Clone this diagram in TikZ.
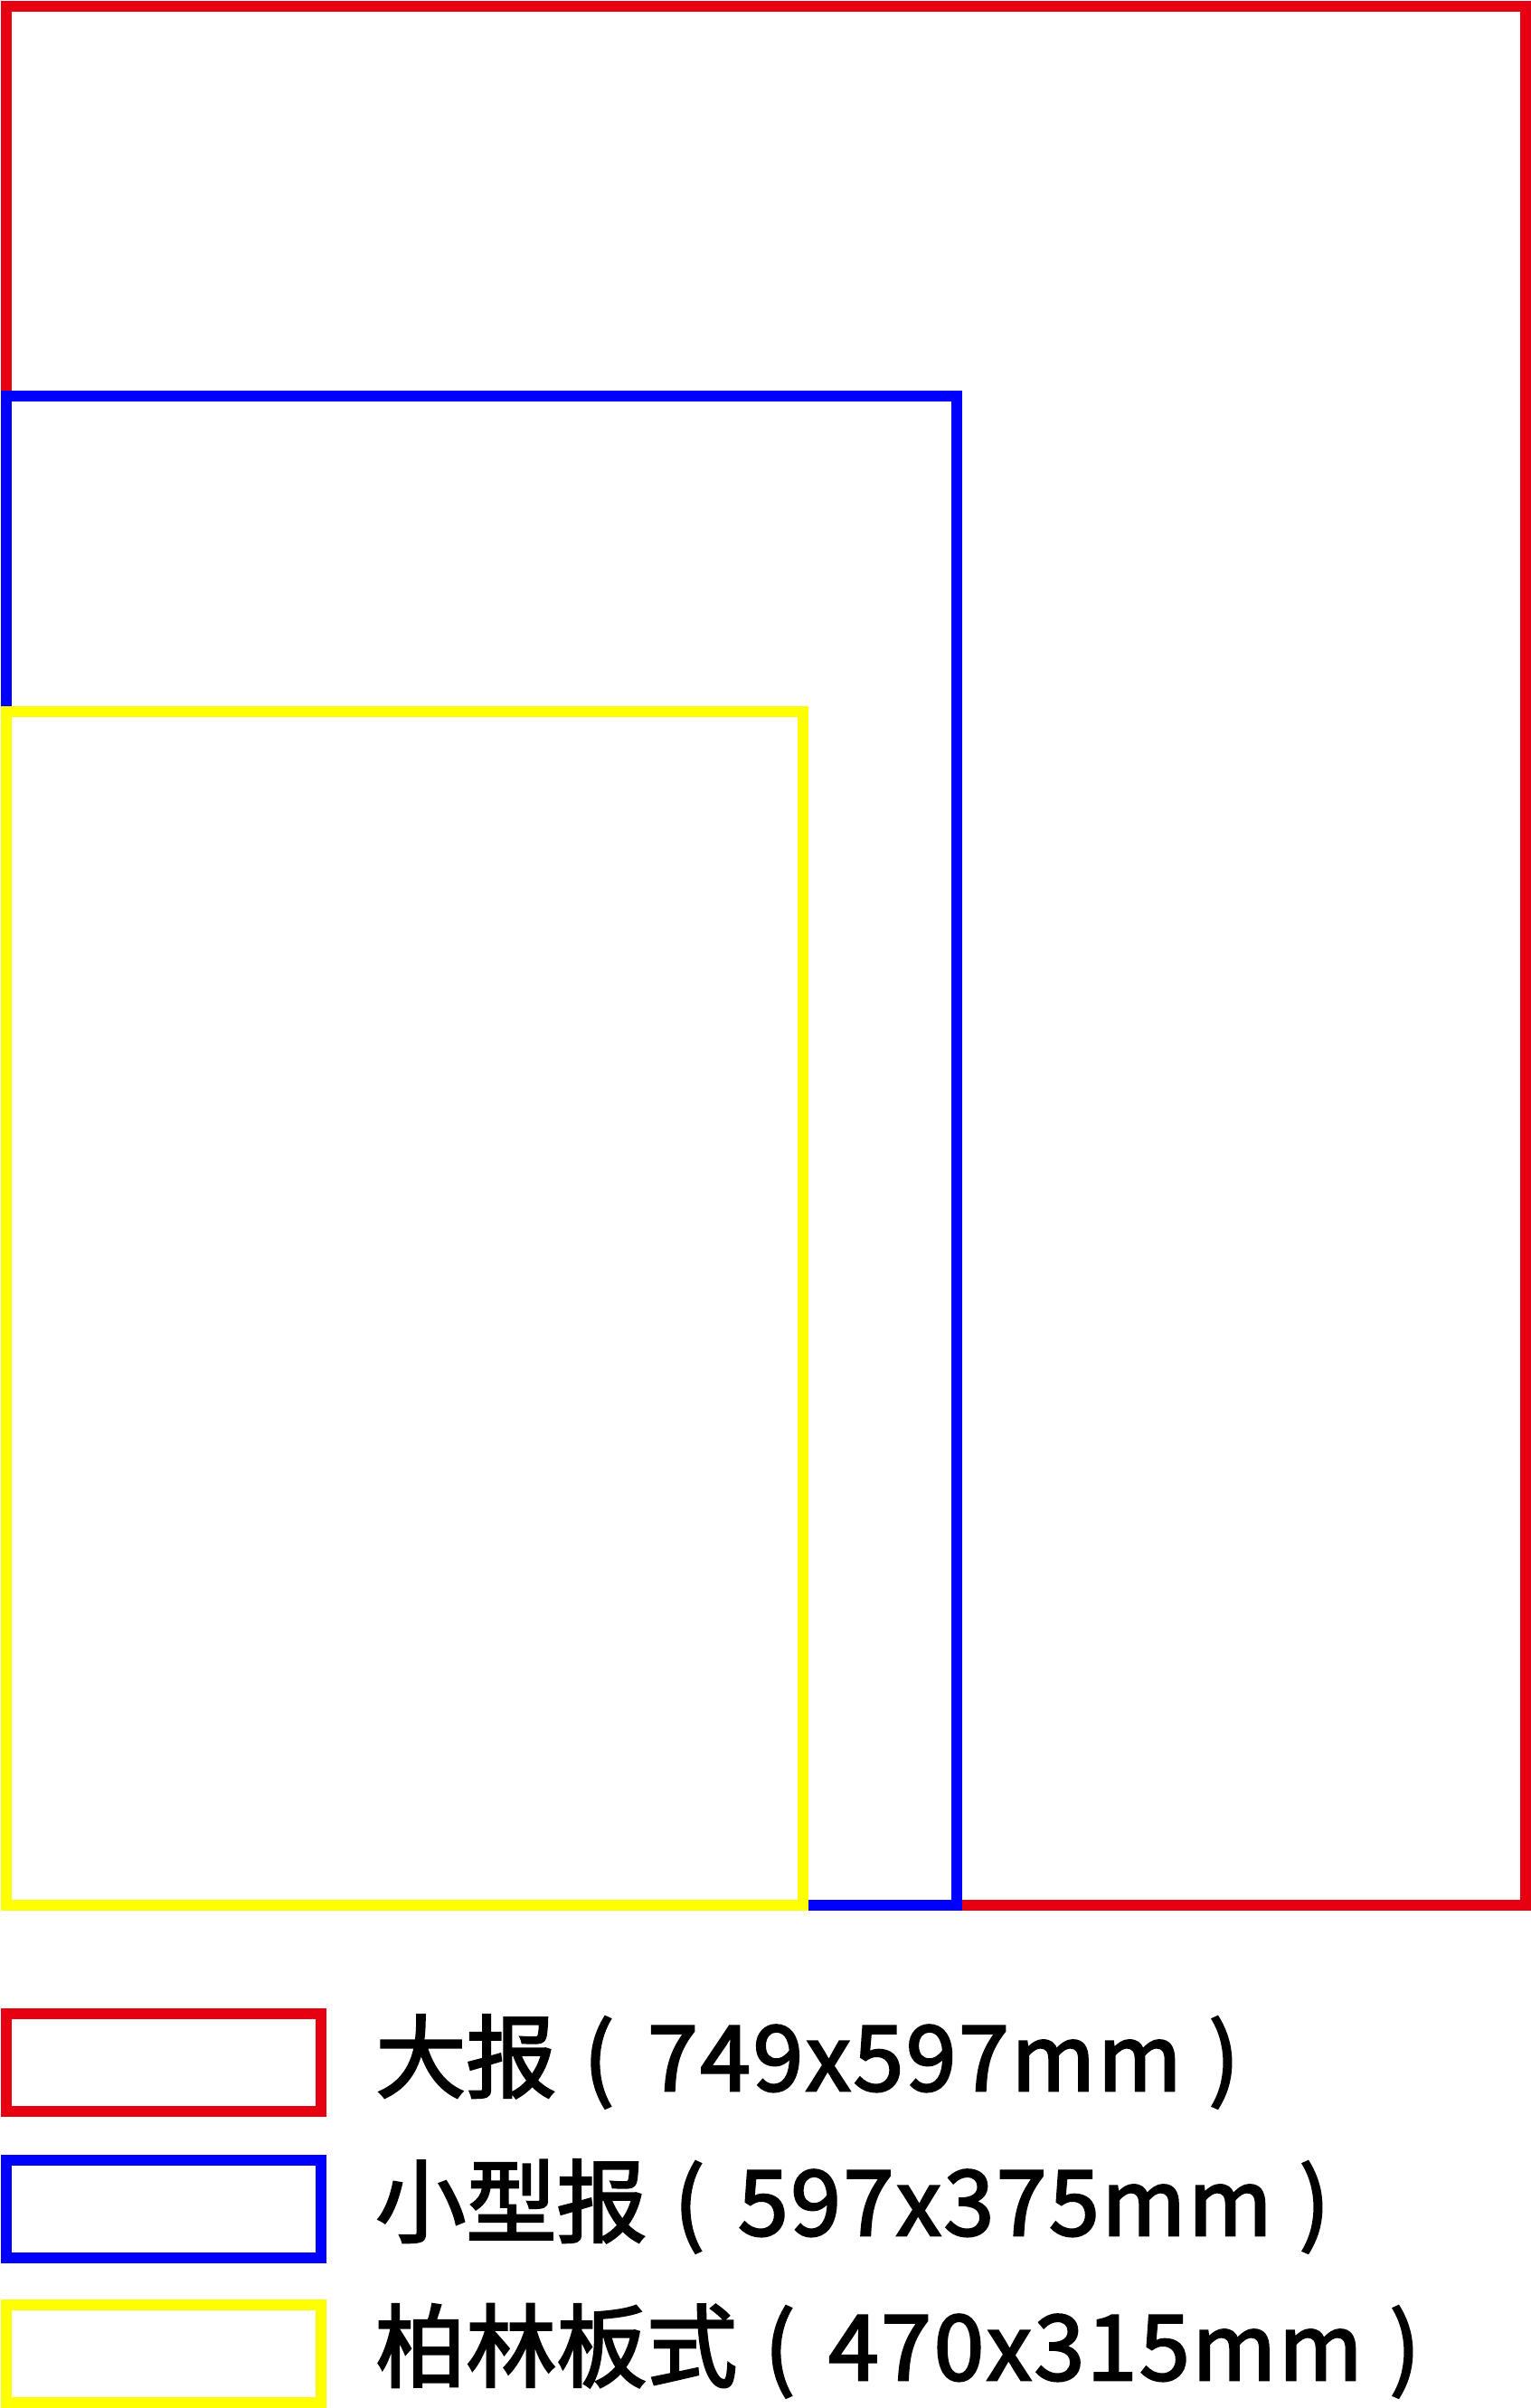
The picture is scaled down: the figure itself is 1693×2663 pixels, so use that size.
\documentclass[tikz,border=0pt]{standalone}
\usepackage{fontspec}
\newfontfamily\cjk{Noto Sans CJK SC}[FakeBold=2.5]
\newfontfamily\cjknum{Noto Sans CJK SC}[FakeBold=2.5,LetterSpace=2.8]
\definecolor{bigred}{RGB}{230,0,18}
\definecolor{tabblue}{RGB}{0,0,255}
\definecolor{berlinyellow}{RGB}{255,255,0}
\newcommand{\sizelabel}[2]{#1\hspace{15pt}(\hspace{18.5pt}{\cjknum #2}\hspace{15pt})}
\begin{document}
\begin{tikzpicture}[x=0.5pt,y=-0.5pt,
  frame/.style={line width=6pt},
  lab/.style={anchor=base west,inner sep=0pt,font=\cjk\fontsize{50}{60}\selectfont}]
\useasboundingbox (0,0) rectangle (1693,2663);
% page outlines
\draw[frame,bigred] (7,7) rectangle (1687,2107);
\draw[frame,tabblue] (7,438) rectangle (1058,2107);
\draw[frame,berlinyellow] (7,787) rectangle (888,2107);
% legend
\draw[frame,bigred] (7,2227) rectangle (355,2335);
\draw[frame,tabblue] (7,2389) rectangle (355,2497);
\draw[frame,berlinyellow] (7,2549) rectangle (355,2657);
\node[lab] (t1) at (415,2312) {\sizelabel{大报}{749x597mm}};
\node[lab] (t2) at (415,2472) {\sizelabel{小型报}{597x375mm}};
\node[lab] (t3) at (415,2632) {\sizelabel{柏林板式}{470x315mm}};
\end{tikzpicture}
\end{document}
